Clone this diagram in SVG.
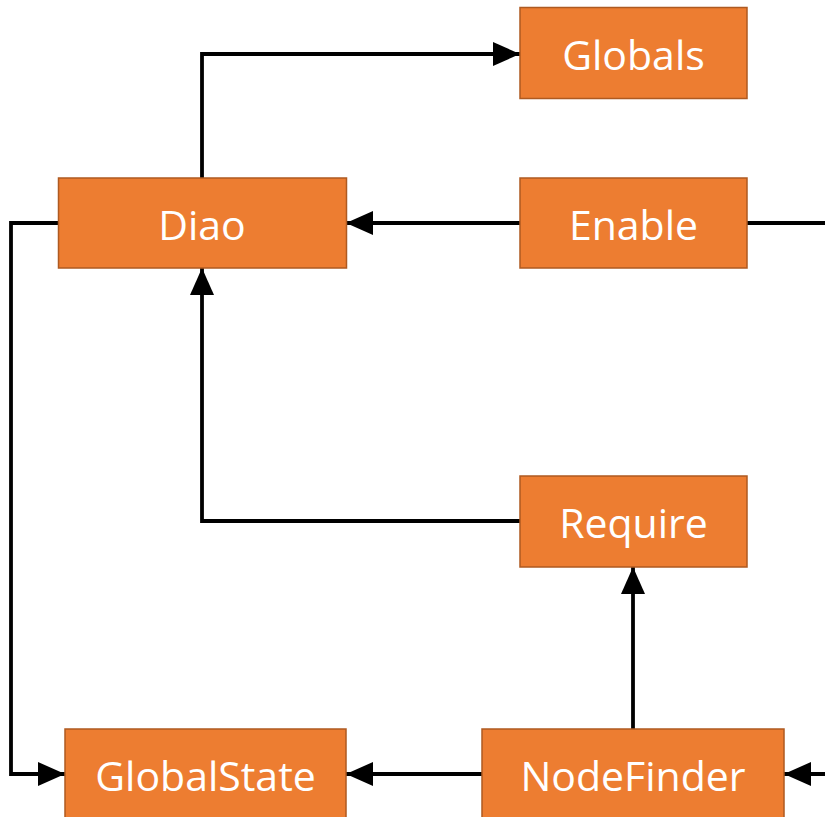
<svg xmlns="http://www.w3.org/2000/svg" width="825" height="817" viewBox="0 0 825 817">
  <style>
    .box { fill: #ED7D31; stroke: #AE5A21; stroke-width: 1.5; }
    .lbl { fill: #FFFFFF; font-family: "Open Sans", "Noto Sans", "Liberation Sans", sans-serif; font-size: 41px; text-anchor: middle; }
    .wire { fill: none; stroke: #000000; stroke-width: 3.8; }
  </style>
  <defs>
    <marker id="arrow" markerUnits="userSpaceOnUse" markerWidth="28" markerHeight="26" refX="27" refY="13" orient="auto">
      <path d="M0,1 L27,13 L0,25 Z" fill="#000000"/>
    </marker>
  </defs>

  <rect width="825" height="817" fill="#FFFFFF"/>

  <g id="connectors">
    <!-- Diao -> Globals -->
    <path class="wire" d="M202,178 V54 H520" marker-end="url(#arrow)"/>
    <!-- Enable -> Diao -->
    <path class="wire" d="M520,223 H346" marker-end="url(#arrow)"/>
    <!-- Enable continues off the right edge -->
    <path class="wire" d="M747,223 H825"/>
    <!-- Require -> Diao -->
    <path class="wire" d="M520,521 H202 V268" marker-end="url(#arrow)"/>
    <!-- Diao -> GlobalState -->
    <path class="wire" d="M58,223 H11 V774 H65" marker-end="url(#arrow)"/>
    <!-- NodeFinder -> GlobalState -->
    <path class="wire" d="M482,774 H346" marker-end="url(#arrow)"/>
    <!-- NodeFinder -> Require -->
    <path class="wire" d="M633,729 V567" marker-end="url(#arrow)"/>
    <!-- incoming from the right edge -> NodeFinder -->
    <path class="wire" d="M825,774 H784" marker-end="url(#arrow)"/>
  </g>

  <g id="globals">
    <rect class="box" x="520" y="7.5" width="227" height="91"/>
    <text class="lbl" x="633.5" y="70">Globals</text>
  </g>
  <g id="diao">
    <rect class="box" x="58.5" y="178" width="288" height="90"/>
    <text class="lbl" x="202" y="240">Diao</text>
  </g>
  <g id="enable">
    <rect class="box" x="520" y="178" width="227" height="90"/>
    <text class="lbl" x="633.5" y="240">Enable</text>
  </g>
  <g id="require">
    <rect class="box" x="520" y="476" width="227" height="91"/>
    <text class="lbl" x="633.5" y="538">Require</text>
  </g>
  <g id="globalstate">
    <rect class="box" x="65" y="729" width="281" height="95"/>
    <text class="lbl" x="205.5" y="791">GlobalState</text>
  </g>
  <g id="nodefinder">
    <rect class="box" x="482" y="729" width="302" height="95"/>
    <text class="lbl" x="633" y="791">NodeFinder</text>
  </g>
</svg>
